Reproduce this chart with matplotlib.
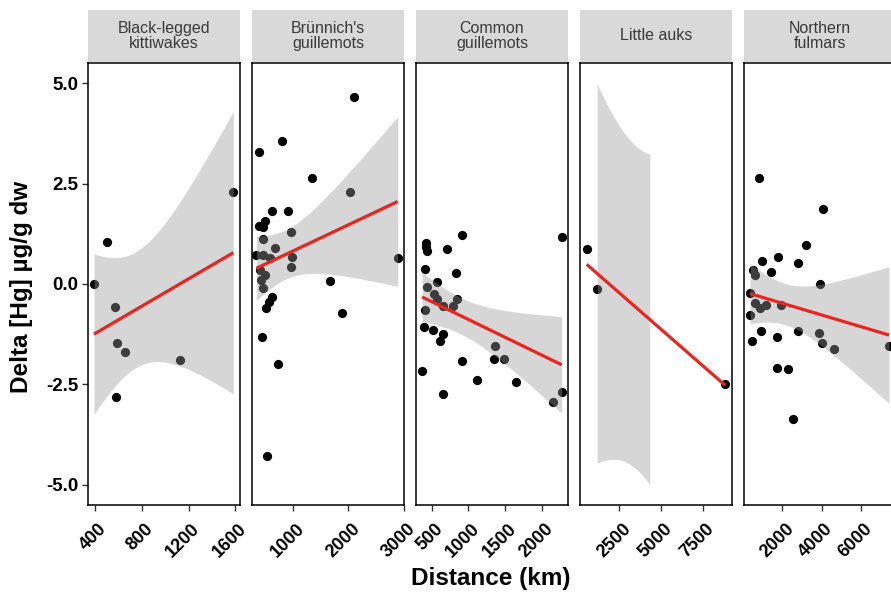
import math
import numpy as np
import matplotlib
matplotlib.use('Agg')
import matplotlib.pyplot as plt
import matplotlib.transforms as mtransforms

plt.rcParams['font.family'] = ['Liberation Sans', 'DejaVu Sans']

# Values (distance in km, delta Hg in ug/g dw)
species = ['Black-legged\nkittiwakes', "Brünnich's\nguillemots", 'Common\nguillemots',
           'Little auks', 'Northern\nfulmars']

kittiwake_x = [391, 503, 571, 589, 657, 580, 1128, 1583]
kittiwake_y = [0.0, 1.05, -0.57, -1.47, -1.69, -2.81, -1.89, 2.29]

brunnich_x = [2104, 789, 382, 1340, 2031, 625, 898, 498, 382, 455, 953, 455, 680, 335, 455,
              576, 982, 958, 2891, 394, 485, 425, 455, 1667, 625, 564, 504, 1885, 431, 727, 535]
brunnich_y = [4.66, 3.57, 3.28, 2.65, 2.29, 1.82, 1.82, 1.57, 1.44, 1.43, 1.30, 1.11, 0.90, 0.72,
              0.72, 0.64, 0.68, 0.43, 0.65, 0.35, 0.22, 0.10, -0.11, 0.08, -0.33, -0.44, -0.60,
              -0.73, -1.33, -2.00, -4.27]

common_x = [422, 422, 432, 909, 713, 405, 831, 576, 440, 531, 568, 658, 841, 795, 409, 395,
            514, 658, 613, 1363, 1350, 1486, 909, 368, 1114, 1645, 650, 2158, 2273, 2273]
common_y = [1.01, 0.91, 0.83, 1.22, 0.86, 0.38, 0.28, 0.04, -0.07, -0.25, -0.38, -0.55, -0.37,
            -0.55, -0.65, -1.08, -1.14, -1.24, -1.43, -1.54, -1.87, -1.87, -1.92, -2.16, -2.40,
            -2.45, -2.74, -2.94, -2.69, 1.18]

auk_x = [546, 1145, 8837]
auk_y = [0.86, -0.13, -2.49]

fulmar_x = [812, 4092, 3209, 980, 1796, 2786, 1423, 520, 607, 3923, 352, 607, 862, 1168, 1918,
            352, 898, 1714, 2816, 3888, 4010, 4638, 439, 1745, 2306, 2531, 7444]
fulmar_y = [2.63, 1.86, 0.97, 0.57, 0.68, 0.53, 0.31, 0.35, 0.22, -0.01, -0.22, -0.48, -0.60,
            -0.52, -0.52, -0.77, -1.16, -1.33, -1.16, -1.21, -1.48, -1.62, -1.43, -2.08, -2.12,
            -3.37, -1.54]

xs = [kittiwake_x, brunnich_x, common_x, auk_x, fulmar_x]
ys = [kittiwake_y, brunnich_y, common_y, auk_y, fulmar_y]

x_limits = [(340, 1640), (255, 3005), (285, 2360), (145, 9255), (46, 7800)]
x_ticks = [[400, 800, 1200, 1600], [1000, 2000, 3000], [500, 1000, 1500, 2000],
           [2500, 5000, 7500], [2000, 4000, 6000]]
y_ticks = [5.0, 2.5, 0.0, -2.5, -5.0]
y_lim = (-5.5, 5.5)


def t975(df):
    # 97.5% quantile of Student's t, by integrating the density
    grid = np.linspace(0, 200, 400001)
    c = math.gamma((df + 1) / 2) / (math.sqrt(df * math.pi) * math.gamma(df / 2))
    pdf = c * (1 + grid ** 2 / df) ** (-(df + 1) / 2)
    cdf = 0.5 + np.concatenate([[0], np.cumsum((pdf[1:] + pdf[:-1]) / 2 * np.diff(grid))])
    return float(np.interp(0.975, cdf, grid))


def lm_fit(x, y):
    x = np.asarray(x, float)
    y = np.asarray(y, float)
    n = len(x)
    slope, intercept = np.polyfit(x, y, 1)
    resid = y - (intercept + slope * x)
    s = np.sqrt(np.sum(resid ** 2) / (n - 2))
    grid = np.linspace(x.min(), x.max(), 80)
    fit = intercept + slope * grid
    se = s * np.sqrt(1 / n + (grid - x.mean()) ** 2 / np.sum((x - x.mean()) ** 2))
    half = t975(n - 2) * se
    return grid, fit, fit - half, fit + half


W, H = 891, 597
fig = plt.figure(figsize=(W / 100, H / 100), dpi=100)

lefts = [88, 252, 416, 580, 744]
pw = 152
top, bottom = 63, 505
nudge = mtransforms.ScaledTranslation(3 / 100, 0, fig.dpi_scale_trans)

for i in range(5):
    ax = fig.add_axes([lefts[i] / W, (H - bottom) / H, pw / W, (bottom - top) / H])
    ax.scatter(xs[i], ys[i], s=44, color='black', linewidths=0, zorder=2)

    grid, fit, lo, hi = lm_fit(xs[i], ys[i])
    # out-of-limits parts of the band are dropped, as in the original
    ok = (lo >= -5) & (hi <= 5)
    ax.fill_between(grid, lo, hi, where=ok, color='#999999', alpha=0.4, linewidth=0, zorder=3)
    ax.plot(grid, fit, color='#E8251E', linewidth=2.3, zorder=4, solid_capstyle='butt')

    ax.set_xlim(x_limits[i])
    ax.set_ylim(y_lim)
    ax.set_xticks(x_ticks[i])
    ax.set_xticklabels([str(t) for t in x_ticks[i]], rotation=45, ha='right', va='top',
                       rotation_mode='anchor', fontsize=13, fontweight='bold')
    ax.tick_params(axis='x', length=4, width=1, color='#333333', pad=7)
    for lab in ax.get_xticklabels():
        lab.set_transform(lab.get_transform() + nudge)
    if i == 0:
        ax.set_yticks(y_ticks)
        ax.set_yticklabels(['%.1f' % v for v in y_ticks], fontsize=13.5, fontweight='bold')
        ax.tick_params(axis='y', length=4, width=1, color='#333333', pad=3)
    else:
        ax.set_yticks([])
    for sp in ax.spines.values():
        sp.set_color('black')
        sp.set_linewidth(1.1)

    # facet strip
    sax = fig.add_axes([lefts[i] / W, (H - 62) / H, pw / W, 52 / H])
    sax.set_facecolor('#D9D9D9')
    sax.set_xticks([])
    sax.set_yticks([])
    for sp in sax.spines.values():
        sp.set_visible(False)
    sax.text(0.5, 0.5, species[i], ha='center', va='center', fontsize=11.5,
             color='#3A3A3A', linespacing=1.08, transform=sax.transAxes)

fig.text(22 / W, (H - 287) / H, 'Delta [Hg] µg/g dw', rotation=90, ha='center', va='center',
         fontsize=17.5, fontweight='bold')
fig.text(491 / W, (H - 579) / H, 'Distance (km)', ha='center', va='center',
         fontsize=17.5, fontweight='bold')

fig.savefig('out.png', dpi=100)
